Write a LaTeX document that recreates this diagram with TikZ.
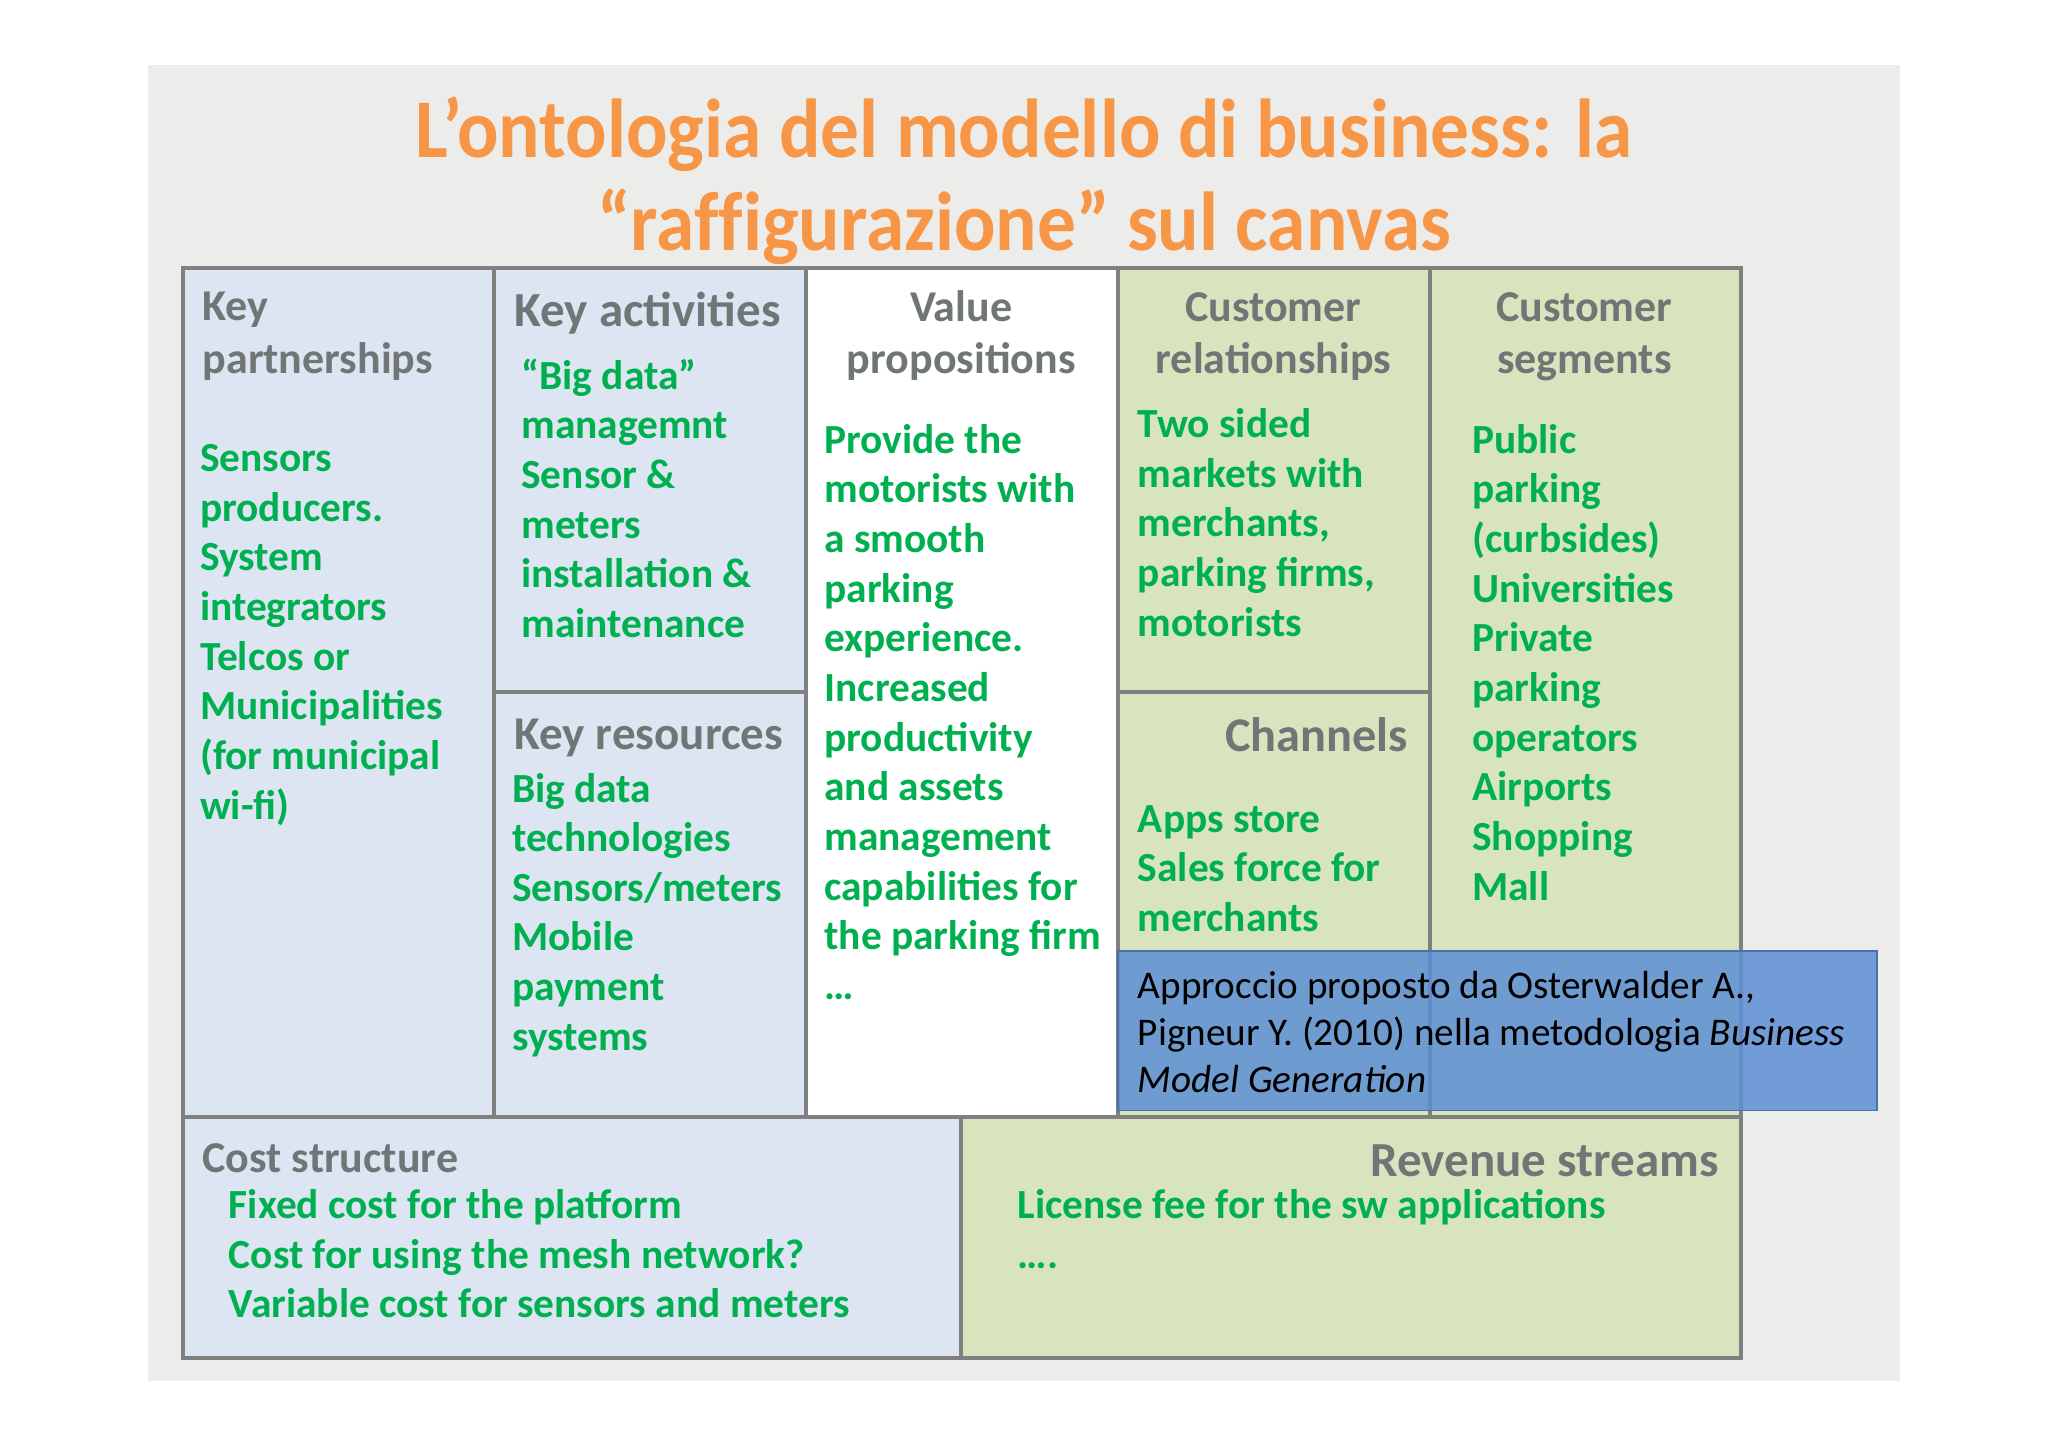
\documentclass[tikz,border=0pt]{standalone}
\usepackage{fontspec}
\setmainfont{Carlito}
\definecolor{bgray}{RGB}{236,236,234}
\definecolor{cblue}{RGB}{220,229,241}
\definecolor{cgreen}{RGB}{215,228,189}
\definecolor{bord}{RGB}{128,128,128}
\definecolor{gtxt}{RGB}{0,176,80}
\definecolor{htxt}{RGB}{112,117,118}
\definecolor{otxt}{RGB}{247,150,70}
\definecolor{nblue}{RGB}{92,143,212}
\newcommand\fl{\rule{0pt}{0.8em}}
\tikzset{
  cell/.style={draw=bord, line width=3pt, anchor=north west, inner sep=0pt, outer sep=0pt},
  cellb/.style={cell, fill=cblue},
  cellg/.style={cell, fill=cgreen},
  cellw/.style={cell, fill=white},
  body/.style={anchor=north west, inner sep=0pt, align=left, text=gtxt,
    font=\fontsize{31.7}{38}\selectfont\bfseries},
  head/.style={inner sep=0pt, text=htxt, font=\fontsize{33.7}{40}\selectfont\bfseries},
  bighead/.style={inner sep=0pt, text=htxt, font=\fontsize{37}{44}\selectfont\bfseries},
}
\begin{document}
\begin{tikzpicture}[x=1pt,y=-1pt]
\useasboundingbox (0,0) rectangle (1568,1109);
\fill[white] (0,0) rectangle (1568,1109);
\fill[bgray] (113,50) rectangle (1455,1057);
% title
\node[anchor=north, inner sep=0pt, align=center, text=otxt,
  font={\fontsize{64}{71}\selectfont\bfseries\addfontfeatures{Ligatures=NoCommon,FakeStretch=0.925}}] (title) at (784,69)
  {\fl L’ontologia del modello di business: la\\ “raffigurazione” sul canvas};
% cells
\node[cellb, minimum width=238pt, minimum height=650pt] (kp) at (140,205) {};
\node[cellb, minimum width=239pt, minimum height=325pt] (ka) at (378,205) {};
\node[cellb, minimum width=239pt, minimum height=325pt] (kr) at (378,530) {};
\node[cellw, minimum width=239pt, minimum height=650pt] (vp) at (617,205) {};
\node[cellg, minimum width=239pt, minimum height=325pt] (cr) at (856,205) {};
\node[cellg, minimum width=239pt, minimum height=325pt] (ch) at (856,530) {};
\node[cellg, minimum width=238pt, minimum height=650pt] (cs) at (1095,205) {};
\node[cellb, minimum width=596pt, minimum height=185pt] (cost) at (140,855) {};
\node[cellg, minimum width=597pt, minimum height=185pt] (rev) at (736,855) {};
% headings
\node[head, anchor=north west, align=left] (kph) at (155,218.5) {\fl Key\\partnerships};
\node[bighead, anchor=north west, align=left, font=\fontsize{37.5}{44}\selectfont\bfseries] (kah) at (394,219.4) {\fl Key activities};
\node[head, anchor=north, align=center] (vph) at (736,219) {\fl Value\\propositions};
\node[head, anchor=north, align=center] (crh) at (975,219) {\fl Customer\\relationships};
\node[head, anchor=north, align=center] (csh) at (1213,219) {\fl Customer\\segments};
\node[bighead, anchor=north west, align=left, font=\fontsize{36}{44}\selectfont\bfseries] (krh) at (394,545.2) {\fl Key resources};
\node[bighead, anchor=north east, align=right] (chh) at (1078,545.6) {\fl Channels};
\node[head, anchor=north west, align=left] (costh) at (155,870.2) {\fl Cost structure};
\node[bighead, anchor=north east, align=right, font=\fontsize{37.5}{44}\selectfont\bfseries] (revh) at (1316,870.4) {\fl Revenue streams};
% bodies
\node[body] (kpb) at (153,335.5) {\fl Sensors\\producers.\\System\\integrators\\Telcos or\\Municipalities\\(for municipal\\wi-fi)};
\node[body] (kab) at (399,272.5) {\fl “Big data”\\managemnt\\Sensor \&\\meters\\installation \&\\maintenance};
\node[body] (krb) at (392,588.5) {\fl Big data\\technologies\\Sensors/meters\\Mobile\\payment\\systems};
\node[body] (vpb) at (631,321.5) {\fl Provide the\\motorists with\\a smooth\\parking\\experience.\\Increased\\productivity\\and assets\\management\\capabilities for\\the parking firm\\…};
\node[body] (crb) at (871,309.5) {\fl Two sided\\markets with\\merchants,\\parking firms,\\motorists};
\node[body] (chb) at (871,611.5) {\fl Apps store\\Sales force for\\merchants};
\node[body] (csb) at (1127,321.5) {\fl Public\\parking\\(curbsides)\\Universities\\Private\\parking\\operators\\Airports\\Shopping\\Mall};
\node[body] (costb) at (175,907.5) {\fl Fixed cost for the platform\\Cost for using the mesh network?\\Variable cost for sensors and meters};
\node[body] (revb) at (779,907.5) {\fl License fee for the sw applications\\….};
% note
\node[anchor=north west, inner sep=0pt, outer sep=0pt, minimum width=581pt, minimum height=122pt,
  fill=nblue, fill opacity=0.85, draw=nblue!80!black, line width=1pt] (note) at (856,728) {};
\node[anchor=north west, inner sep=0pt, align=left, text=black,
  font=\fontsize{30}{36}\selectfont] (notet) at (871,740.5)
  {\fl Approccio proposto da Osterwalder A.,\\Pigneur Y. (2010) nella metodologia \textit{Business}\\\textit{Model Generation}};
\end{tikzpicture}
\end{document}
